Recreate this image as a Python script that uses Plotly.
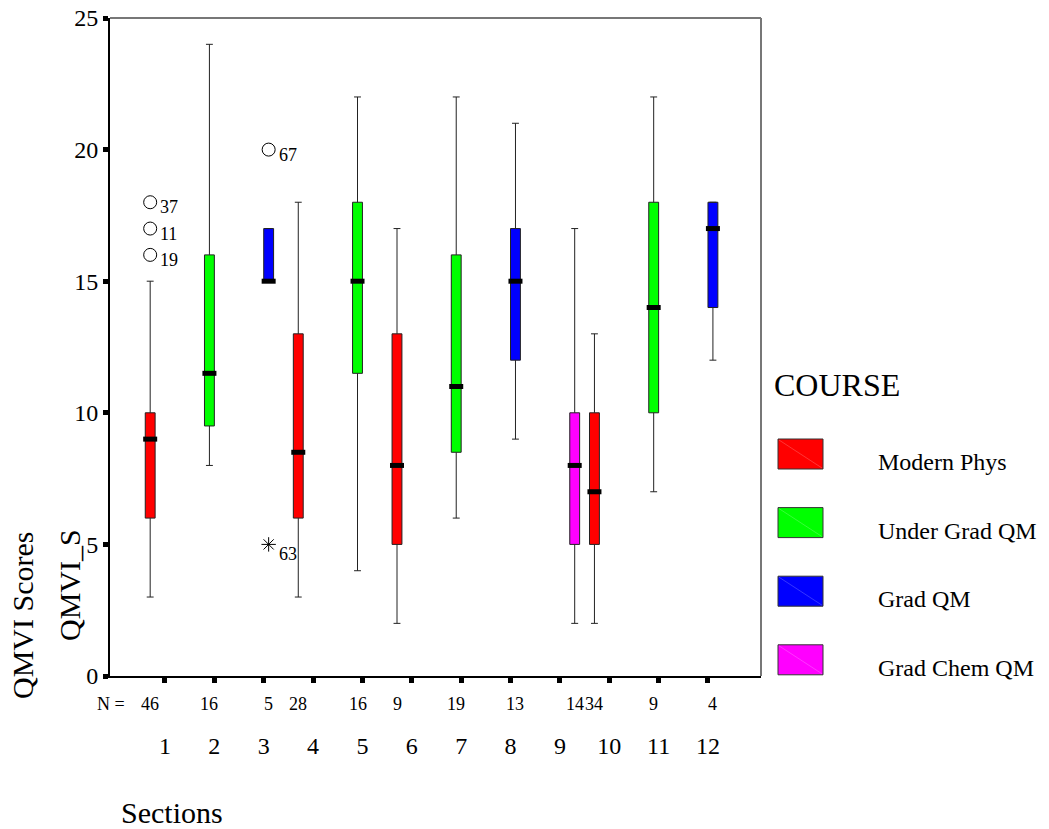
import plotly.graph_objects as go

# ---------------- data ----------------
sections = list(range(1, 13))
courses = ["Modern Phys", "Under Grad QM", "Grad QM", "Grad Chem QM"]
course_colors = ["#FF0000", "#00FF00", "#0000FF", "#FF00FF"]

box_section = [1, 2, 3, 4, 5, 6, 7, 8, 9, 10, 11, 12]
box_course = ["Modern Phys", "Under Grad QM", "Grad QM", "Modern Phys",
              "Under Grad QM", "Modern Phys", "Under Grad QM", "Grad QM",
              "Grad Chem QM", "Modern Phys", "Under Grad QM", "Grad QM"]
n_counts = [46, 16, 5, 28, 16, 9, 19, 13, 14, 34, 9, 4]
lower_fence = [3, 8, 15, 3, 4, 2, 6, 9, 2, 2, 7, 12]
q1_vals = [6, 9.5, 15, 6, 11.5, 5, 8.5, 12, 5, 5, 10, 14]
median_vals = [9, 11.5, 15, 8.5, 15, 8, 11, 15, 8, 7, 14, 17]
q3_vals = [10, 16, 17, 13, 18, 13, 16, 17, 10, 10, 18, 18]
upper_fence = [15, 24, 17, 18, 22, 17, 22, 21, 17, 13, 22, 18]

# outliers: (section, course, value, case id, kind)
out_section = [1, 1, 1, 3, 3]
out_course = ["Modern Phys", "Modern Phys", "Modern Phys", "Grad QM", "Grad QM"]
out_value = [18, 17, 16, 20, 5]
out_id = ["37", "11", "19", "67", "63"]
out_kind = ["outlier", "outlier", "outlier", "outlier", "extreme"]

# ---------------- layout constants ----------------
FONT = "Liberation Serif, Times New Roman, serif"
W, H = 1049, 829
ML, MR, MT, MB = 110, 288, 18, 153
PW = W - ML - MR
PH = H - MT - MB
SLOT = 0.2  # cluster slot width (4 courses per section)


def xpos(section, course):
    return section + (courses.index(course) - 1.5) * SLOT


def pxx(px):
    return (px - ML) / PW


def pxy(py):
    return (H - MB - py) / PH


fig = go.Figure()

for ci, course in enumerate(courses):
    idx = [i for i, c in enumerate(box_course) if c == course]
    if not idx:
        continue
    xs = [xpos(box_section[i], course) for i in idx]
    fig.add_trace(go.Box(
        x=xs,
        q1=[q1_vals[i] for i in idx],
        median=[median_vals[i] for i in idx],
        q3=[q3_vals[i] for i in idx],
        lowerfence=[lower_fence[i] for i in idx],
        upperfence=[upper_fence[i] for i in idx],
        width=SLOT,
        whiskerwidth=0.7,
        fillcolor=course_colors[ci],
        line=dict(color="#222222", width=1),
        boxpoints=False,
        name=course,
        showlegend=False,
    ))
    # thick median bars
    fig.add_trace(go.Scatter(
        x=xs, y=[median_vals[i] for i in idx], mode="markers",
        marker=dict(symbol="line-ew", size=10,
                    line=dict(color="black", width=5)),
        showlegend=False, hoverinfo="skip",
    ))

# outliers
ox = [xpos(s, c) for s, c in zip(out_section, out_course)]
circ = [i for i, k in enumerate(out_kind) if k == "outlier"]
ext = [i for i, k in enumerate(out_kind) if k == "extreme"]
fig.add_trace(go.Scatter(
    x=[ox[i] for i in circ], y=[out_value[i] for i in circ], mode="markers",
    marker=dict(symbol="circle-open", size=13, color="black",
                line=dict(width=1, color="black")),
    showlegend=False,
))
fig.add_trace(go.Scatter(
    x=[ox[i] for i in ext], y=[out_value[i] for i in ext], mode="markers",
    marker=dict(symbol="asterisk-open", size=12, color="black",
                line=dict(width=1, color="black")),
    showlegend=False,
))

annotations = []
for i in range(len(out_value)):
    annotations.append(dict(
        x=ox[i], y=out_value[i], xref="x", yref="y", text=out_id[i],
        showarrow=False, xanchor="left", yanchor="middle",
        xshift=8, yshift=-5 if out_kind[i] == "outlier" else -10,
        font=dict(family=FONT, size=18, color="black"),
    ))

# N labels
for i in range(len(n_counts)):
    annotations.append(dict(
        x=xpos(box_section[i], box_course[i]), y=pxy(704), xref="x",
        yref="paper", text=str(n_counts[i]), showarrow=False,
        xanchor="center", yanchor="middle",
        font=dict(family=FONT, size=18, color="black"),
    ))
annotations.append(dict(
    x=pxx(111), y=pxy(704), xref="paper", yref="paper", text="N =",
    showarrow=False, xanchor="center", yanchor="middle",
    font=dict(family=FONT, size=18, color="black"),
))

# axis titles
annotations.append(dict(
    x=pxx(172), y=pxy(812), xref="paper", yref="paper", text="Sections",
    showarrow=False, xanchor="center", yanchor="middle",
    font=dict(family=FONT, size=30, color="black"),
))
annotations.append(dict(
    x=pxx(22), y=pxy(616), xref="paper", yref="paper", text="QMVI Scores",
    showarrow=False, xanchor="center", yanchor="middle", textangle=-90,
    font=dict(family=FONT, size=30, color="black"),
))
annotations.append(dict(
    x=pxx(69), y=pxy(585), xref="paper", yref="paper", text="QMVI_S",
    showarrow=False, xanchor="center", yanchor="middle", textangle=-90,
    font=dict(family=FONT, size=30, color="black"),
))

# legend (drawn manually)
shapes = [
    dict(type="line", xref="paper", yref="paper", x0=0, x1=1, y0=1, y1=1,
         line=dict(color="#777777", width=2)),
    dict(type="line", xref="paper", yref="paper", x0=1, x1=1, y0=0, y1=1,
         line=dict(color="#777777", width=2)),
]
annotations.append(dict(
    x=pxx(772), y=pxy(385), xref="paper", yref="paper", text="COURSE",
    showarrow=False, xanchor="left", yanchor="middle",
    font=dict(family=FONT, size=32, color="black"),
))
LEG_TOP = 439
LEG_STEP = 68.6
for ci, course in enumerate(courses):
    top = LEG_TOP + ci * LEG_STEP
    shapes.append(dict(
        type="rect", xref="paper", yref="paper",
        x0=pxx(778), x1=pxx(823), y0=pxy(top + 30), y1=pxy(top),
        fillcolor=course_colors[ci], line=dict(color="#333333", width=1),
    ))
    shapes.append(dict(
        type="line", xref="paper", yref="paper",
        x0=pxx(779), x1=pxx(822), y0=pxy(top + 1), y1=pxy(top + 29),
        line=dict(color="rgba(255,255,255,0.35)", width=0.6),
    ))
    annotations.append(dict(
        x=pxx(876), y=pxy(top + 23), xref="paper", yref="paper", text=course,
        showarrow=False, xanchor="left", yanchor="middle",
        font=dict(family=FONT, size=24, color="black"),
    ))

fig.update_layout(
    width=W, height=H,
    margin=dict(l=ML, r=MR, t=MT, b=MB, pad=0, autoexpand=False),
    paper_bgcolor="white", plot_bgcolor="white",
    showlegend=False, boxmode="overlay",
    font=dict(family=FONT, color="black"),
    shapes=shapes, annotations=annotations,
    xaxis=dict(
        range=[-0.114, 13.074], tickmode="array", tickvals=sections,
        ticktext=[str(s) for s in sections], ticks="outside", ticklen=5,
        tickwidth=5, tickcolor="black", showline=True, linecolor="black",
        linewidth=1.5, showgrid=False, zeroline=False, automargin=False,
        tickfont=dict(family=FONT, size=24, color="black"),
        ticklabelstandoff=42,
    ),
    yaxis=dict(
        range=[0, 25], tickmode="array", tickvals=[0, 5, 10, 15, 20, 25],
        ticks="outside", ticklen=5, tickwidth=5, tickcolor="black",
        showline=True, linecolor="black", linewidth=2, showgrid=False,
        zeroline=False, automargin=False,
        tickfont=dict(family=FONT, size=24, color="black"),
    ),
)

fig.write_html("out.html")
